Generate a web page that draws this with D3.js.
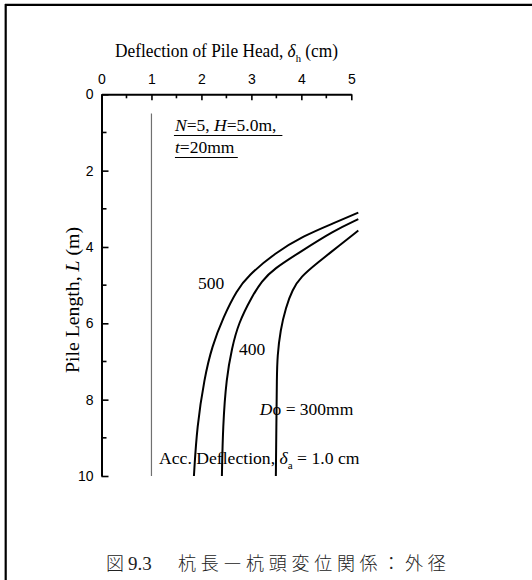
<!DOCTYPE html>
<html><head><meta charset="utf-8">
<script src="https://cdn.jsdelivr.net/npm/d3@7"></script>
<style>
html,body{margin:0;padding:0;background:#fff;}
svg{display:block;}
</style></head>
<body>
<script>
// ---------- data ----------
const xTickValues = [0, 1, 2, 3, 4, 5];
const xMinorTicks = [0.5, 1.5, 2.5, 3.5, 4.5];
const yTickValues = [0, 2, 4, 6, 8, 10];
const yMinorTicks = [1, 3, 5, 7, 9];
const seriesNames = ["500", "400", "300"];
// [deflection of pile head (cm), pile length (m)]
const curve500 = [[5.14,3.10],[4.64,3.38],[4.04,3.71],[3.47,4.16],[2.93,4.76],[2.71,5.13],[2.44,5.83],[2.21,6.61],[2.06,7.43],[1.91,8.71],[1.85,10]];
const curve400 = [[5.14,3.27],[4.64,3.58],[4.00,4.11],[3.44,4.58],[3.21,4.89],[3.01,5.30],[2.74,6.00],[2.61,6.65],[2.50,7.43],[2.43,8.69],[2.41,10]];
const curve300 = [[5.14,3.57],[4.77,3.95],[4.31,4.43],[3.99,4.78],[3.82,5.12],[3.69,5.58],[3.58,6.18],[3.52,6.87],[3.51,7.40],[3.50,8.69],[3.49,10]];
const accDeflection = 1.0;      // allowable deflection line (cm)
const accLineRange = [0.5, 10]; // pile length span of that line
const xTitle = "Deflection of Pile Head, ";
const yTitle = "Pile Length, ";
const captionFig = "図";
const captionNum = "9.3";
const captionBody = "杭長―杭頭変位関係：外径";

// ---------- layout ----------
const W = 532, H = 580;
const svg = d3.select("body").append("svg").attr("width", W).attr("height", H);
const x = d3.scaleLinear().domain([0, 5]).range([101.5, 351.3]);
const y = d3.scaleLinear().domain([0, 10]).range([94.3, 476]);
const serif = "'Liberation Serif','Times New Roman',serif";
const sans = "'Liberation Sans',Arial,sans-serif";

// frame
svg.append("line").attr("x1", 5).attr("x2", W).attr("y1", 4.8).attr("y2", 4.8)
  .attr("stroke", "#000").attr("stroke-width", 2.2);
svg.append("line").attr("x1", 5.7).attr("x2", 5.7).attr("y1", 4).attr("y2", H)
  .attr("stroke", "#000").attr("stroke-width", 2.2);

// fit helper: horizontally scale a group to a target width
function fit(g, x0, target) {
  const bb = g.node().getBBox();
  const s = target / bb.width;
  g.attr("transform", `translate(${x0},0) scale(${s},1) translate(${-bb.x},0)`);
}

// axes
const xAxis = d3.axisTop(x).tickValues(xTickValues).tickSizeInner(-6).tickSizeOuter(0).tickPadding(10).tickFormat(d3.format("d"));
const yAxis = d3.axisLeft(y).tickValues(yTickValues).tickSizeInner(-7).tickSizeOuter(0).tickPadding(8).tickFormat(d3.format("d"));
const gx = svg.append("g").attr("transform", `translate(0,${y(0)})`).call(xAxis);
const gy = svg.append("g").attr("transform", `translate(${x(0)},0)`).call(yAxis);
[gx, gy].forEach(g => {
  g.select(".domain").attr("stroke", "#000").attr("stroke-width", 2);
  g.selectAll(".tick line").attr("stroke", "#000").attr("stroke-width", 1.6);
  g.selectAll(".tick text").attr("font-family", sans).attr("font-size", 14).attr("fill", "#000");
});
// minor ticks
svg.append("g").selectAll("line").data(xMinorTicks).join("line")
  .attr("x1", d => x(d)).attr("x2", d => x(d)).attr("y1", y(0)).attr("y2", y(0) + 4)
  .attr("stroke", "#000").attr("stroke-width", 1.6);
svg.append("g").selectAll("line").data(yMinorTicks).join("line")
  .attr("y1", d => y(d)).attr("y2", d => y(d)).attr("x1", x(0)).attr("x2", x(0) + 5)
  .attr("stroke", "#000").attr("stroke-width", 1.6);

// x title
{
  const g = svg.append("g");
  const t = g.append("text").attr("y", 57).attr("font-family", serif).attr("font-size", 18).attr("fill", "#000");
  t.append("tspan").text(xTitle);
  t.append("tspan").attr("font-style", "italic").text("δ");
  t.append("tspan").attr("font-size", 11).attr("dy", 5).text("h");
  t.append("tspan").attr("dy", -5).text(" (cm)");
  fit(g, 115, 223);
}
// y title
{
  const g = svg.append("g").attr("transform", "translate(79,300) rotate(-90)");
  const t = g.append("text").attr("text-anchor", "middle").attr("font-family", serif).attr("font-size", 19).attr("fill", "#000")
    .attr("textLength", 146).attr("lengthAdjust", "spacingAndGlyphs");
  t.append("tspan").text(yTitle);
  t.append("tspan").attr("font-style", "italic").text("L");
  t.append("tspan").text(" (m)");
}

// allowable deflection reference line
svg.append("line")
  .attr("x1", x(accDeflection)).attr("x2", x(accDeflection))
  .attr("y1", y(accLineRange[0])).attr("y2", y(accLineRange[1]))
  .attr("stroke", "#707070").attr("stroke-width", 1.2);

// curves
const line = d3.line().x(d => x(d[0])).y(d => y(d[1])).curve(d3.curveBasis);
svg.append("g").selectAll("path").data([curve500, curve400, curve300]).join("path")
  .attr("d", line).attr("fill", "none").attr("stroke", "#000").attr("stroke-width", 2);

// annotation N=5 ...
{
  const g = svg.append("g");
  const t1 = g.append("text").attr("x", x(1.47)).attr("y", 131).attr("font-family", serif).attr("font-size", 17.5).attr("fill", "#000");
  t1.append("tspan").attr("font-style", "italic").text("N");
  t1.append("tspan").text("=5, ");
  t1.append("tspan").attr("font-style", "italic").text("H");
  t1.append("tspan").text("=5.0m,");
  const t2 = g.append("text").attr("x", x(1.47)).attr("y", 153).attr("font-family", serif).attr("font-size", 17.5).attr("fill", "#000");
  t2.append("tspan").attr("font-style", "italic").text("t");
  t2.append("tspan").text("=20mm");
  const b1 = t1.node().getBBox(), b2 = t2.node().getBBox();
  g.append("line").attr("x1", b1.x).attr("x2", b1.x + b1.width + 6).attr("y1", 135.5).attr("y2", 135.5).attr("stroke", "#000").attr("stroke-width", 1.2);
  g.append("line").attr("x1", b2.x).attr("x2", b2.x + b2.width + 3).attr("y1", 157.5).attr("y2", 157.5).attr("stroke", "#000").attr("stroke-width", 1.2);
}

// series labels
svg.append("text").attr("x", x(1.93)).attr("y", y(5.10)).attr("font-family", serif).attr("font-size", 17.5).attr("fill", "#000").text(seriesNames[0]);
svg.append("text").attr("x", x(2.75)).attr("y", y(6.83)).attr("font-family", serif).attr("font-size", 17.5).attr("fill", "#000").text(seriesNames[1]);
{
  const t = svg.append("text").attr("x", x(3.17)).attr("y", y(8.40)).attr("font-family", serif).attr("font-size", 17.5).attr("fill", "#000");
  t.append("tspan").attr("font-style", "italic").text("D");
  t.append("tspan").text("o = " + seriesNames[2] + "mm");
}
{
  const g = svg.append("g");
  const t = g.append("text").attr("y", y(9.69)).attr("font-family", serif).attr("font-size", 17.5).attr("fill", "#000");
  t.append("tspan").text("Acc. Deflection, ");
  t.append("tspan").attr("font-style", "italic").text("δ");
  t.append("tspan").attr("font-size", 11).attr("dy", 5).text("a");
  t.append("tspan").attr("dy", -5).text(" = " + accDeflection.toFixed(1) + " cm");
  fit(g, 159, 201);
}

// caption
svg.append("text").attr("x", 106).attr("y", 570)
  .attr("font-family", "'Noto Sans CJK JP',sans-serif").attr("font-size", 18).attr("font-weight", 300)
  .attr("fill", "#222").text(captionFig);
svg.append("text").attr("x", 128).attr("y", 570)
  .attr("font-family", serif).attr("font-size", 19)
  .attr("fill", "#222").text(captionNum);
svg.append("text").attr("x", 178).attr("y", 570)
  .attr("font-family", "'Noto Sans CJK JP',sans-serif").attr("font-size", 18).attr("font-weight", 300)
  .attr("fill", "#222").attr("letter-spacing", 4.7).text(captionBody);
</script>
</body></html>
